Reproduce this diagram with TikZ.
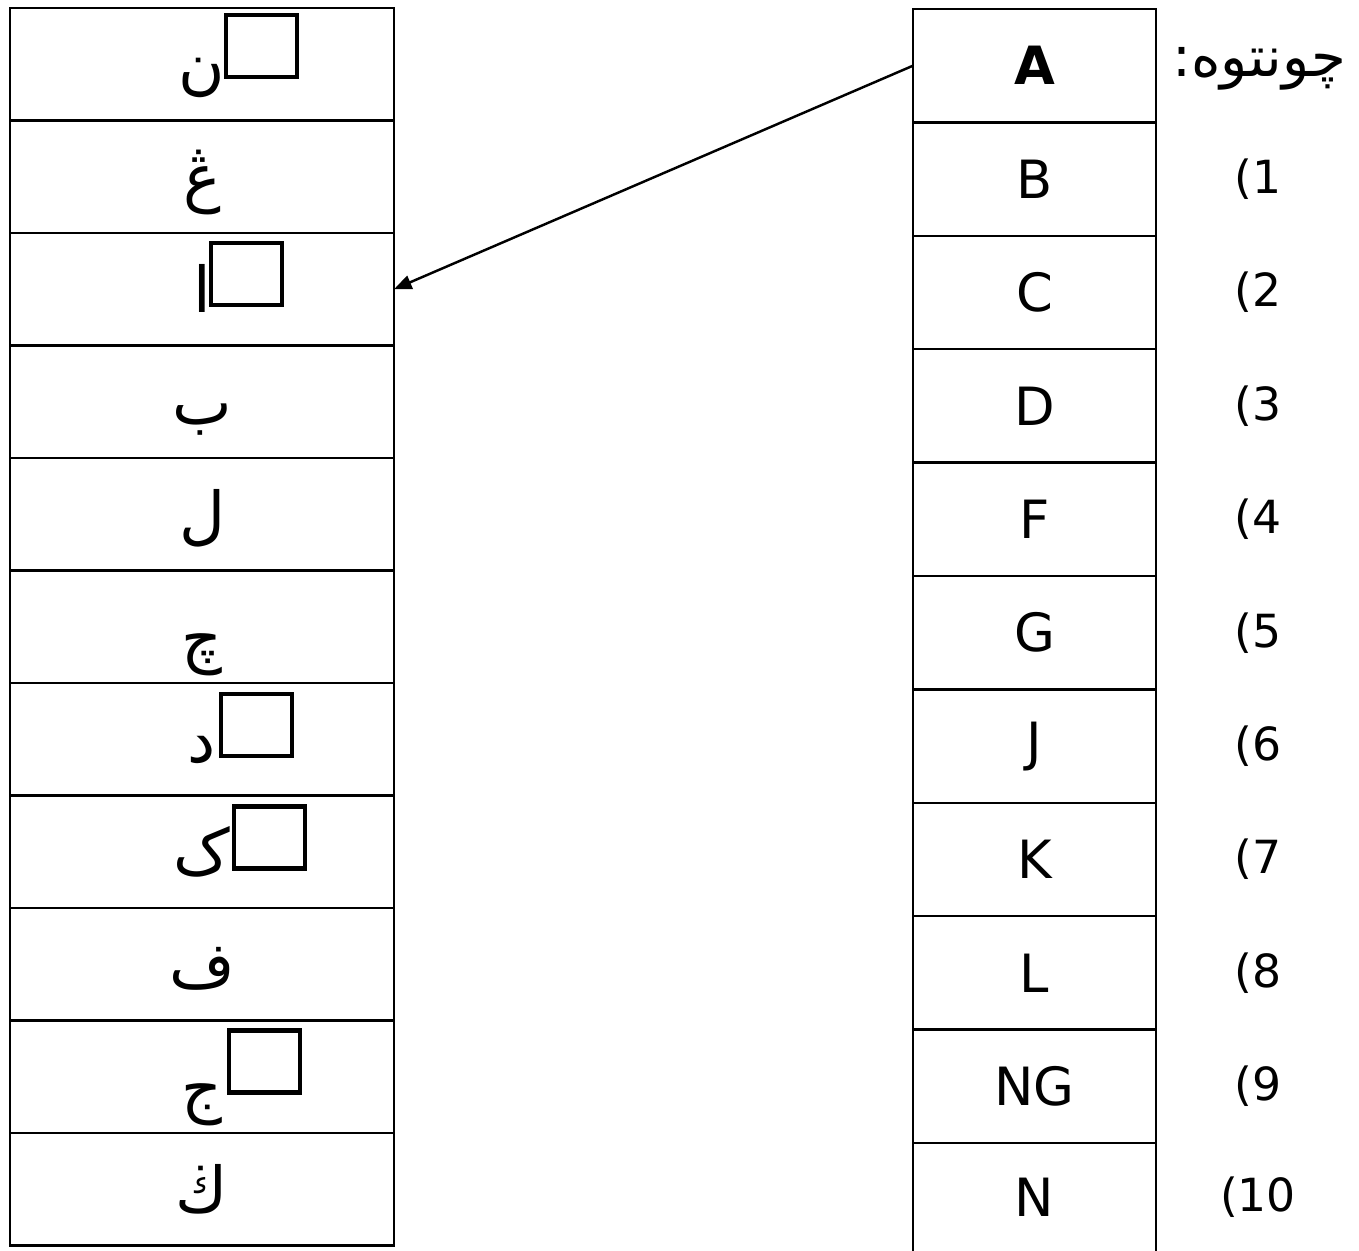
\documentclass[tikz,border=0pt]{standalone}
\usepackage{fontspec}
\setmainfont{DejaVu Sans}
\newfontfamily\arabicfont[Script=Arabic]{DejaVu Sans}
\TeXXeTstate=1
\usetikzlibrary{arrows.meta, positioning}

\begin{document}
\begin{tikzpicture}[
  every node/.style={inner sep=0pt, outer sep=0pt},
  lcell/.style={draw, line width=0.7pt, minimum width=3.84cm, minimum height=1.125cm,
    text height=0.56cm, text depth=0.1cm,
    font=\arabicfont\fontsize{18}{20}\selectfont},
  rcell/.style={draw, line width=0.7pt, minimum width=2.43cm, minimum height=1.134cm,
    font=\fontsize{15}{18}\selectfont},
  blank/.style={draw, line width=1.2pt, minimum width=0.71cm, minimum height=0.62cm, anchor=north west},
  num/.style={font=\fontsize{13}{15}\selectfont}]
  \useasboundingbox (0,0) rectangle (13.59,-12.51);
  % left column
  \node[lcell] (lnun) at (2.02,-0.6425) {ن};
  \node[lcell] (lngha)  [below=0pt of lnun]  {ڠ};
  \node[lcell] (lalif)  [below=0pt of lngha] {ا};
  \node[lcell] (lba)    [below=0pt of lalif] {ب};
  \node[lcell] (llam)   [below=0pt of lba]   {ل};
  \node[lcell, text height=0.78cm] (lca) [below=0pt of llam] {چ};
  \node[lcell] (ldal)   [below=0pt of lca]   {د};
  \node[lcell] (lkaf)   [below=0pt of ldal]  {ک};
  \node[lcell] (lfa)    [below=0pt of lkaf]  {ف};
  \node[lcell, text height=0.78cm] (ljim) [below=0pt of lfa] {ج};
  \node[lcell] (lga)    [below=0pt of ljim]  {ڬ};
  \node[blank] (bnun)  at ([xshift=0.24cm,yshift=-0.07cm]lnun.north) {};
  \node[blank] (balif) at ([xshift=0.09cm,yshift=-0.10cm]lalif.north) {};
  \node[blank] (bdal)  at ([xshift=0.19cm,yshift=-0.11cm]ldal.north) {};
  \node[blank] (bkaf)  at ([xshift=0.32cm,yshift=-0.11cm]lkaf.north) {};
  \node[blank] (bjim)  at ([xshift=0.27cm,yshift=-0.10cm]ljim.north) {};
  % right column
  \node[rcell, font=\fontsize{15}{18}\selectfont\bfseries] (rA) at (10.345,-0.657) {A};
  \node[rcell] (rB)  [below=0pt of rA]  {B};
  \node[rcell] (rC)  [below=0pt of rB]  {C};
  \node[rcell] (rD)  [below=0pt of rC]  {D};
  \node[rcell] (rF)  [below=0pt of rD]  {F};
  \node[rcell] (rG)  [below=0pt of rF]  {G};
  \node[rcell] (rJ)  [below=0pt of rG]  {J};
  \node[rcell] (rK)  [below=0pt of rJ]  {K};
  \node[rcell] (rL)  [below=0pt of rK]  {L};
  \node[rcell] (rNG) [below=0pt of rL]  {NG};
  \node[rcell, draw=none, minimum height=1.08cm] (rN) [below=0pt of rNG] {N};
  \draw[line width=0.7pt] (rN.north west) -- (rN.south west) (rN.north east) -- (rN.south east);
  \node[font=\arabicfont\fontsize{16}{20}\selectfont] (lbl) at ([xshift=1.03cm,yshift=-0.03cm]rA.east) {\beginR چونتوه:\endR};
  \node[num] (n1)  at ([xshift=1.02cm]rB.east)  {(1};
  \node[num] (n2)  at ([xshift=1.02cm]rC.east)  {(2};
  \node[num] (n3)  at ([xshift=1.02cm]rD.east)  {(3};
  \node[num] (n4)  at ([xshift=1.02cm]rF.east)  {(4};
  \node[num] (n5)  at ([xshift=1.02cm]rG.east)  {(5};
  \node[num] (n6)  at ([xshift=1.02cm]rJ.east)  {(6};
  \node[num] (n7)  at ([xshift=1.02cm]rK.east)  {(7};
  \node[num] (n8)  at ([xshift=1.02cm]rL.east)  {(8};
  \node[num] (n9)  at ([xshift=1.02cm]rNG.east) {(9};
  \node[num] (n10) at ([xshift=1.02cm]rN.east)  {(10};
  \draw[-{Triangle[length=5pt,width=4pt]}, line width=0.7pt] (rA.west) -- (lalif.east);
\end{tikzpicture}
\end{document}
